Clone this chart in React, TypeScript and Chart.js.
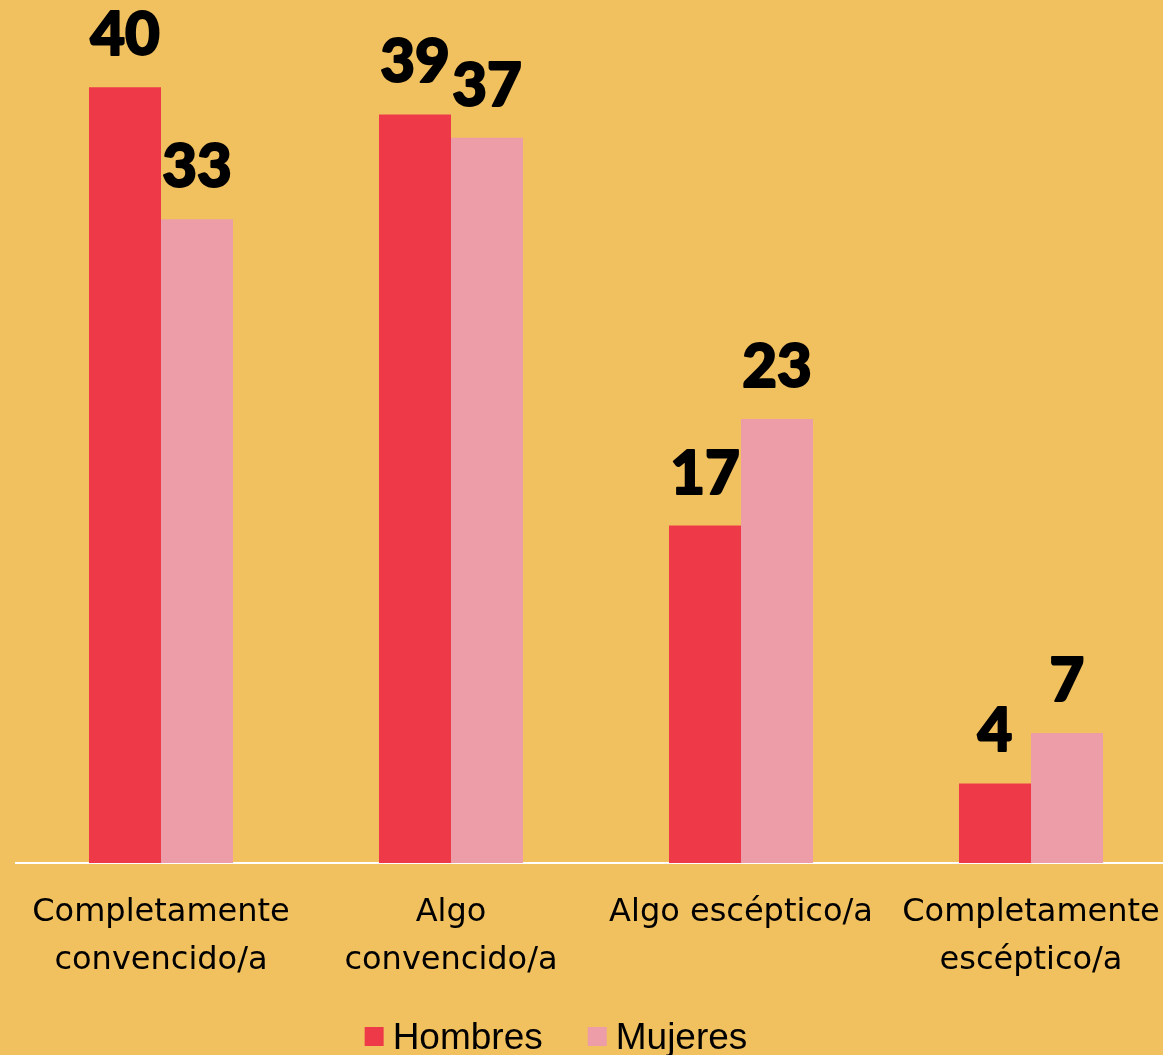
import React, { useEffect, useRef } from "react";
import { Chart, registerables } from "chart.js";
Chart.register(...registerables);

const categories: (string | string[])[] = [
  ["Completamente", "convencido/a"],
  ["Algo", "convencido/a"],
  "Algo escéptico/a",
  ["Completamente", "escéptico/a"],
];
const seriesNames = ["Hombres", "Mujeres"];
const hombres = [40, 38.6, 17.4, 4.1];
const mujeres = [33.2, 37.4, 22.9, 6.7];
const seriesColors = ["#EE3A48", "#EC9DA8"];
const background = "#F2C15F";

export default function App() {
  const ref = useRef<HTMLCanvasElement>(null);

  useEffect(() => {
    if (!ref.current) return;

    const valueLabels = {
      id: "valueLabels",
      afterDatasetsDraw(chart: any) {
        const ctx = chart.ctx;
        ctx.save();
        ctx.font = "900 60px Lato";
        ctx.fillStyle = "#000";
        ctx.strokeStyle = "#000";
        ctx.lineWidth = 2;
        ctx.lineJoin = "round";
        ctx.textAlign = "center";
        ctx.textBaseline = "alphabetic";
        chart.data.datasets.forEach((ds: any, i: number) => {
          chart.getDatasetMeta(i).data.forEach((el: any, j: number) => {
            const t = String(Math.round(ds.data[j]));
            ctx.strokeText(t, el.x, el.y - 32);
            ctx.fillText(t, el.x, el.y - 32);
          });
        });
        ctx.restore();
      },
    };

    const bottomLegend = {
      id: "bottomLegend",
      afterDraw(chart: any) {
        const ctx = chart.ctx;
        ctx.save();
        ctx.font = "37px 'Liberation Sans', Arial";
        const box = 19;
        const gapText = 9;
        const gapItem = 45;
        const items = chart.data.datasets.map((ds: any) => ({
          label: ds.label,
          color: ds.backgroundColor,
          w: box + gapText + ctx.measureText(ds.label).width,
        }));
        const total =
          items.reduce((a: number, b: any) => a + b.w, 0) + gapItem * (items.length - 1);
        let x = 556 - total / 2;
        items.forEach((it: any) => {
          ctx.fillStyle = it.color;
          ctx.fillRect(x, 1027, box, box);
          ctx.fillStyle = "#000";
          ctx.textAlign = "left";
          ctx.textBaseline = "alphabetic";
          ctx.fillText(it.label, x + box + gapText, 1049);
          x += it.w + gapItem;
        });
        ctx.restore();
      },
    };

    const chart = new Chart(ref.current, {
      type: "bar",
      data: {
        labels: categories,
        datasets: [
          {
            label: seriesNames[0],
            data: hombres,
            backgroundColor: seriesColors[0],
            barPercentage: 1,
            categoryPercentage: 0.4966,
          },
          {
            label: seriesNames[1],
            data: mujeres,
            backgroundColor: seriesColors[1],
            barPercentage: 1,
            categoryPercentage: 0.4966,
          },
        ],
      },
      options: {
        animation: false,
        responsive: false,
        maintainAspectRatio: false,
        devicePixelRatio: 1,
        layout: { padding: { left: 16, right: 14, top: 0, bottom: 0 } },
        plugins: {
          legend: { display: false },
          tooltip: { enabled: false },
        },
        scales: {
          x: {
            grid: { display: false, drawTicks: false },
            border: { display: true, color: "#FFFFFF", width: 2 },
            ticks: {
              color: "#000",
              font: { family: "'DejaVu Sans'", size: 32, lineHeight: 1.5 },
              padding: 26,
              maxRotation: 0,
              minRotation: 0,
              autoSkip: false,
            },
            afterFit(s: any) {
              s.height = 192;
              s.paddingLeft = 0;
              s.paddingRight = 0;
            },
          },
          y: {
            display: false,
            min: 0,
            max: 44.5,
          },
        },
      },
      plugins: [valueLabels, bottomLegend],
    });

    return () => chart.destroy();
  }, []);

  return (
    <div
      style={{
        position: "absolute",
        left: 0,
        top: 0,
        width: 1163,
        height: 1055,
        overflow: "hidden",
        background,
      }}
    >
      <canvas ref={ref} width={1190} height={1055} style={{ width: 1190, height: 1055, display: "block" }} />
    </div>
  );
}
